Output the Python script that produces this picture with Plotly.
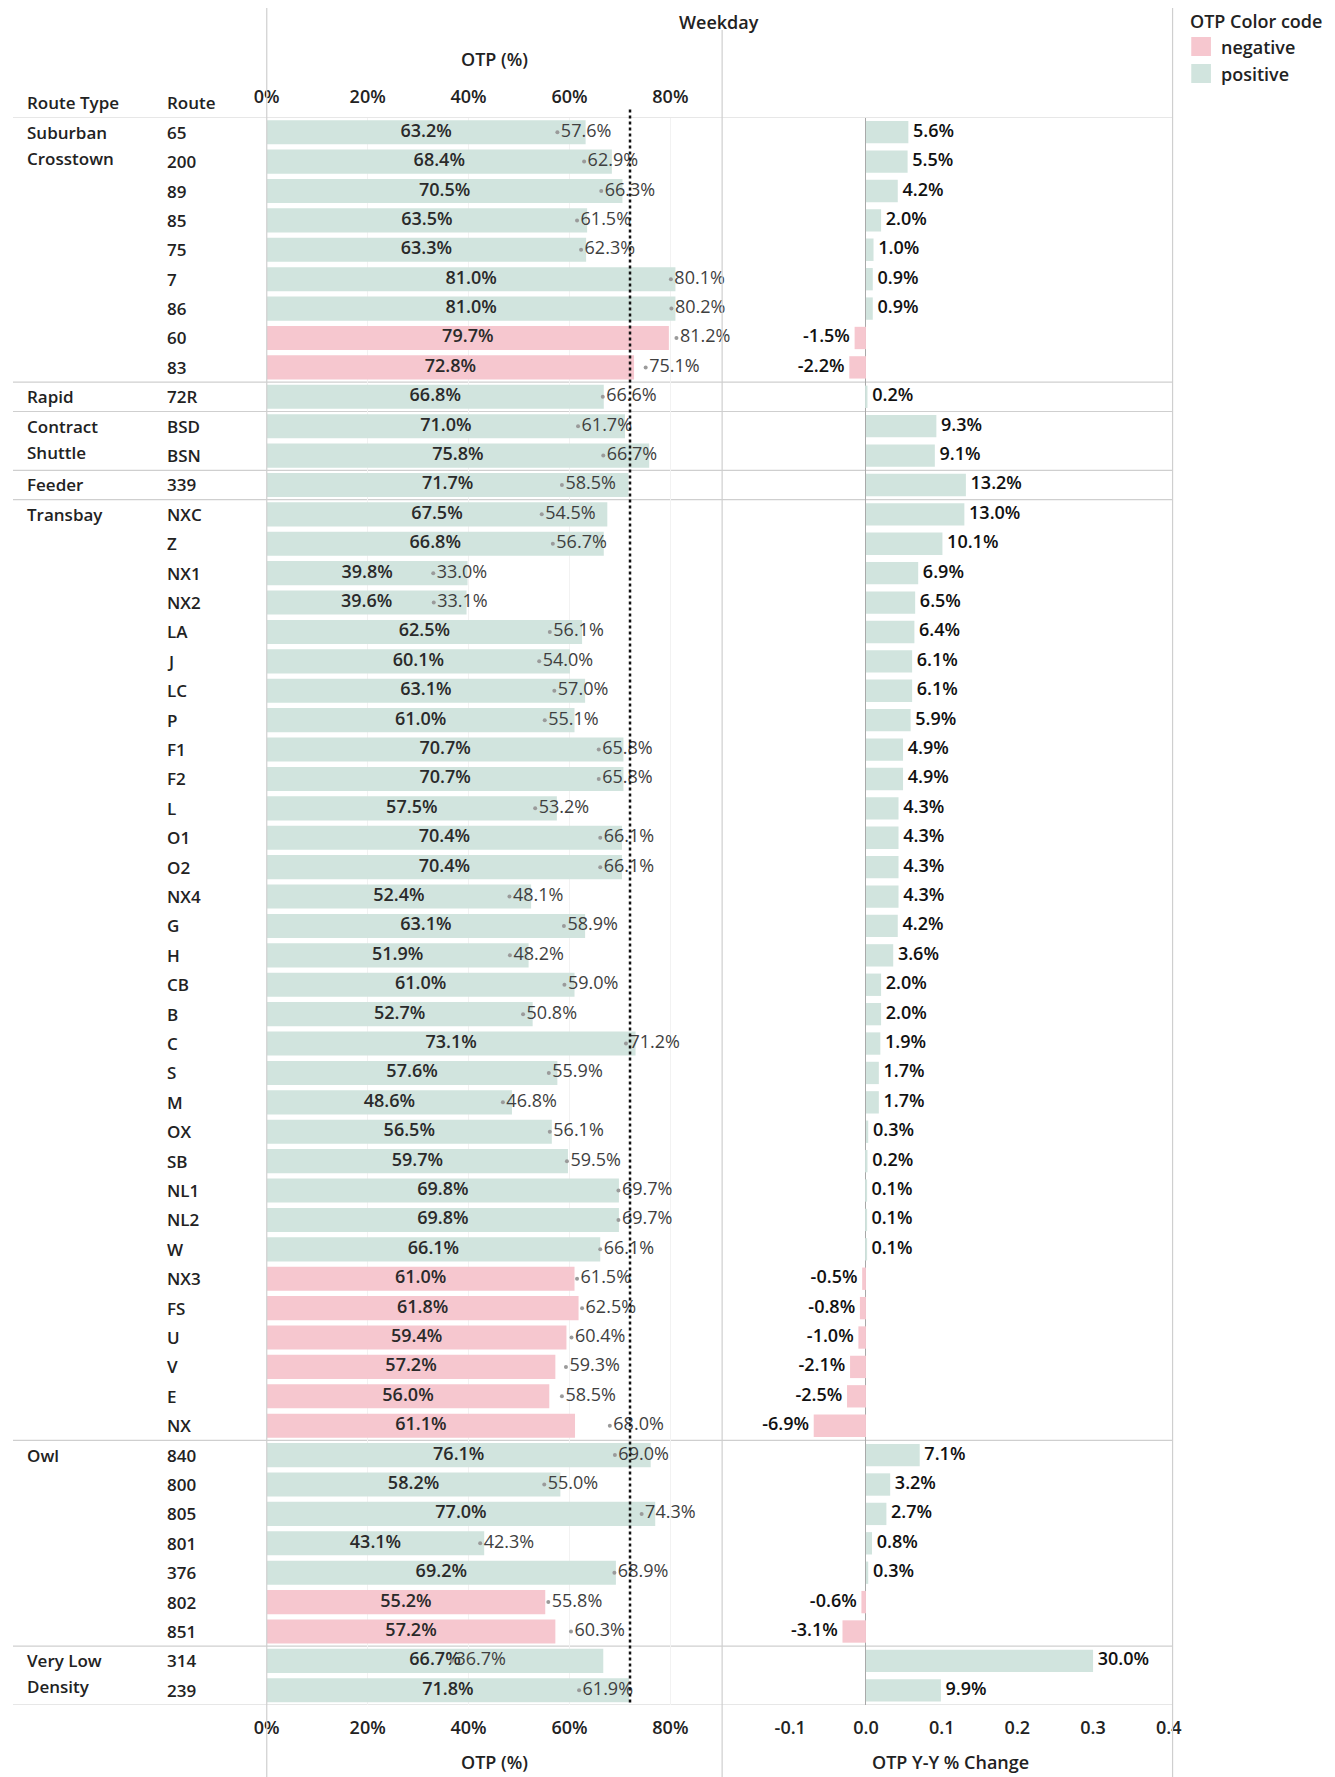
import plotly.graph_objects as go

# ---------------- data ----------------
route_types = ["Suburban Crosstown", "Rapid", "Contract Shuttle", "Feeder", "Transbay", "Owl", "Very Low Density"]
route_type_lines = [["Suburban", "Crosstown"], ["Rapid"], ["Contract", "Shuttle"], ["Feeder"], ["Transbay"], ["Owl"], ["Very Low", "Density"]]
group_sizes = [9, 1, 2, 1, 32, 7, 2]

routes = ["65", "200", "89", "85", "75", "7", "86", "60", "83",
          "72R",
          "BSD", "BSN",
          "339",
          "NXC", "Z", "NX1", "NX2", "LA", "J", "LC", "P", "F1", "F2", "L", "O1", "O2", "NX4", "G", "H",
          "CB", "B", "C", "S", "M", "OX", "SB", "NL1", "NL2", "W", "NX3", "FS", "U", "V", "E", "NX",
          "840", "800", "805", "801", "376", "802", "851",
          "314", "239"]

otp_current = [63.2, 68.4, 70.5, 63.5, 63.3, 81.0, 81.0, 79.7, 72.8,
               66.8,
               71.0, 75.8,
               71.7,
               67.5, 66.8, 39.8, 39.6, 62.5, 60.1, 63.1, 61.0, 70.7, 70.7, 57.5, 70.4, 70.4, 52.4, 63.1, 51.9,
               61.0, 52.7, 73.1, 57.6, 48.6, 56.5, 59.7, 69.8, 69.8, 66.1, 61.0, 61.8, 59.4, 57.2, 56.0, 61.1,
               76.1, 58.2, 77.0, 43.1, 69.2, 55.2, 57.2,
               66.7, 71.8]

otp_previous = [57.6, 62.9, 66.3, 61.5, 62.3, 80.1, 80.2, 81.2, 75.1,
                66.6,
                61.7, 66.7,
                58.5,
                54.5, 56.7, 33.0, 33.1, 56.1, 54.0, 57.0, 55.1, 65.8, 65.8, 53.2, 66.1, 66.1, 48.1, 58.9, 48.2,
                59.0, 50.8, 71.2, 55.9, 46.8, 56.1, 59.5, 69.7, 69.7, 66.1, 61.5, 62.5, 60.4, 59.3, 58.5, 68.0,
                69.0, 55.0, 74.3, 42.3, 68.9, 55.8, 60.3,
                36.7, 61.9]

yoy_change = [5.6, 5.5, 4.2, 2.0, 1.0, 0.9, 0.9, -1.5, -2.2,
              0.2,
              9.3, 9.1,
              13.2,
              13.0, 10.1, 6.9, 6.5, 6.4, 6.1, 6.1, 5.9, 4.9, 4.9, 4.3, 4.3, 4.3, 4.3, 4.2, 3.6,
              2.0, 2.0, 1.9, 1.7, 1.7, 0.3, 0.2, 0.1, 0.1, 0.1, -0.5, -0.8, -1.0, -2.1, -2.5, -6.9,
              7.1, 3.2, 2.7, 0.8, 0.3, -0.6, -3.1,
              30.0, 9.9]

otp_target = 72.0
otp_ticks = [0, 20, 40, 60, 80]
chg_ticks = [-0.1, 0.0, 0.1, 0.2, 0.3, 0.4]
legend_labels = ["negative", "positive"]

# ---------------- styling ----------------
W, H = 1335, 1777
def px(x): return x / W
def py(y): return 1 - y / H

FONT = "Open Sans"
POS_COL = "#d1e4de"
NEG_COL = "#f6c7cf"
LINE_COL = "#cfcfcf"
n = len(routes)

y_top, y_bot = 117.5, 1705.0
left_x0, left_x1 = 258, 721
right_x0, right_x1 = 721, 1179

fig = go.Figure()

pos_idx = [i for i in range(n) if yoy_change[i] >= 0]
neg_idx = [i for i in range(n) if yoy_change[i] < 0]

# left panel bars (current OTP)
for name, idx, col in [("negative", neg_idx, NEG_COL), ("positive", pos_idx, POS_COL)]:
    fig.add_trace(go.Bar(
        x=[otp_current[i] / 100 for i in idx], y=[routes[i] for i in idx],
        orientation="h", marker=dict(color=col, line=dict(width=0)), width=0.82,
        name=name, showlegend=False, xaxis="x", yaxis="y", hoverinfo="skip"))

# current value labels centered in bars
fig.add_trace(go.Scatter(
    x=[c / 200 for c in otp_current], y=routes, mode="text",
    text=[f"{c:.1f}%" for c in otp_current],
    textfont=dict(family=FONT, size=18, color="#2a2a2a", weight=600),
    textposition="middle center", showlegend=False, xaxis="x", yaxis="y",
    hoverinfo="skip", cliponaxis=False))

# previous-year markers with labels
fig.add_trace(go.Scatter(
    x=[p / 100 for p in otp_previous], y=routes, mode="markers+text",
    marker=dict(size=4, color="#9a9a9a"),
    text=[f"{p:.1f}%" for p in otp_previous],
    textfont=dict(family=FONT, size=18, color="#3f3f3f"),
    textposition="middle right", showlegend=False, xaxis="x", yaxis="y",
    hoverinfo="skip", cliponaxis=False))

# invisible trace for top axis
fig.add_trace(go.Scatter(x=[0], y=[routes[0]], mode="markers", marker=dict(opacity=0),
                         showlegend=False, xaxis="x3", yaxis="y", hoverinfo="skip"))

# right panel bars (Y-Y change)
for name, idx, col in [("negative", neg_idx, NEG_COL), ("positive", pos_idx, POS_COL)]:
    fig.add_trace(go.Bar(
        x=[yoy_change[i] / 100 for i in idx], y=[routes[i] for i in idx],
        orientation="h", marker=dict(color=col, line=dict(width=0)), width=0.76,
        name=name, showlegend=False, xaxis="x2", yaxis="y", hoverinfo="skip"))

for idx, pos in [(pos_idx, "middle right"), (neg_idx, "middle left")]:
    fig.add_trace(go.Scatter(
        x=[yoy_change[i] / 100 for i in idx], y=[routes[i] for i in idx], mode="text",
        text=[f" {yoy_change[i]:.1f}% " for i in idx],
        textfont=dict(family=FONT, size=18, color="#111111", weight=600),
        textposition=pos, showlegend=False, xaxis="x2", yaxis="y",
        hoverinfo="skip", cliponaxis=False))

tickfont = dict(family=FONT, size=18, color="#222222", weight=600)
otp_range = [0, (left_x1 - left_x0) / 513.0]

fig.update_layout(
    width=W, height=H, margin=dict(l=0, r=0, t=0, b=0),
    paper_bgcolor="white", plot_bgcolor="rgba(0,0,0,0)",
    barmode="overlay", showlegend=False,
    font=dict(family=FONT, size=18, color="#222"),
    xaxis=dict(domain=[px(left_x0), px(left_x1)], range=otp_range,
               tickvals=[t / 100 for t in otp_ticks], ticktext=[f"{t}%" for t in otp_ticks],
               showgrid=True, gridcolor="#f2f2f2", zeroline=False, showline=False,
               ticks="", tickfont=tickfont, ticklabelstandoff=10, anchor="y"),
    xaxis3=dict(domain=[px(left_x0), px(left_x1)], range=otp_range, overlaying="x", side="top",
                tickvals=[t / 100 for t in otp_ticks], ticktext=[f"{t}%" for t in otp_ticks],
                showgrid=False, zeroline=False, showline=False, ticks="",
                tickfont=tickfont, ticklabelstandoff=10, anchor="y"),
    xaxis2=dict(domain=[px(right_x0), px(right_x1)], range=[-0.19, 0.405],
                tickvals=chg_ticks, ticktext=[f"{t:.1f}" for t in chg_ticks],
                showgrid=False, zeroline=True, zerolinecolor="#a8a8a8", zerolinewidth=1,
                showline=False, ticks="", tickfont=tickfont, ticklabelstandoff=10, anchor="y"),
    yaxis=dict(domain=[py(y_bot), py(y_top)], type="category", categoryarray=routes,
               range=[n - 0.5, -0.5], showticklabels=False, showgrid=False,
               zeroline=False, showline=False, ticks=""),
)

shapes = []
# horizontal separators
bounds = [-0.5]
acc = -0.5
for g in group_sizes:
    acc += g
    bounds.append(acc)
for b in bounds:
    shapes.append(dict(type="line", xref="paper", yref="y", x0=0, x1=px(right_x1), y0=b, y1=b,
                       line=dict(color=LINE_COL, width=1.2), layer="below"))
# vertical panel lines
shapes.append(dict(type="line", xref="paper", yref="paper", x0=px(left_x0), x1=px(left_x0),
                   y0=py(8), y1=0, line=dict(color=LINE_COL, width=1.2)))
shapes.append(dict(type="line", xref="paper", yref="paper", x0=px(right_x0), x1=px(right_x0),
                   y0=py(30), y1=0, line=dict(color=LINE_COL, width=1.2)))
shapes.append(dict(type="line", xref="paper", yref="paper", x0=px(right_x1), x1=px(right_x1),
                   y0=py(8), y1=0, line=dict(color=LINE_COL, width=1.2)))
# target dotted line
shapes.append(dict(type="line", xref="x", yref="paper", x0=otp_target / 100, x1=otp_target / 100,
                   y0=py(y_top - 8), y1=py(y_bot - 2), line=dict(color="#111", width=2.5, dash="dot")))
# legend swatches
for k, col in enumerate([NEG_COL, POS_COL]):
    shapes.append(dict(type="rect", xref="paper", yref="paper",
                       x0=px(1198), x1=px(1218), y0=py(37 + 27 * k), y1=py(56 + 27 * k),
                       fillcolor=col, line=dict(width=0)))
fig.update_layout(shapes=shapes)

ann = []
lab = dict(family=FONT, size=18, color="#222", weight=600)
rowlab = dict(family=FONT, size=17, color="#222", weight=600)
def paper_text(t, x, y, xa="center", font=lab):
    ann.append(dict(text=t, x=px(x), y=py(y), xref="paper", yref="paper",
                    showarrow=False, font=font, xanchor=xa, yanchor="middle"))

paper_text("Weekday", 718, 22)
paper_text("OTP (%)", (left_x0 + left_x1) / 2, 59)
paper_text("OTP (%)", (left_x0 + left_x1) / 2, 1762)
paper_text("OTP Y-Y % Change", 953, 1762)
paper_text("Route Type", 12, 103, "left", rowlab)
paper_text("Route", 155, 103, "left", rowlab)
paper_text("OTP Color code", 1195, 21, "left", lab)
for k, t in enumerate(legend_labels):
    paper_text(t, 1226, 47 + 27 * k, "left", lab)

for i, r in enumerate(routes):
    ann.append(dict(text=r, x=px(155), y=i, xref="paper", yref="y", showarrow=False,
                    font=rowlab, xanchor="left", yanchor="middle"))
start = 0
for lines, g in zip(route_type_lines, group_sizes):
    for k, t in enumerate(lines):
        ann.append(dict(text=t, x=px(12), y=start + k - 0.12 * k, xref="paper", yref="y",
                        showarrow=False, font=rowlab, xanchor="left", yanchor="middle"))
    start += g
fig.update_layout(annotations=ann)

fig.write_html("out.html", config={"displayModeBar": False},
               post_script="document.body.style.margin='0px';")
